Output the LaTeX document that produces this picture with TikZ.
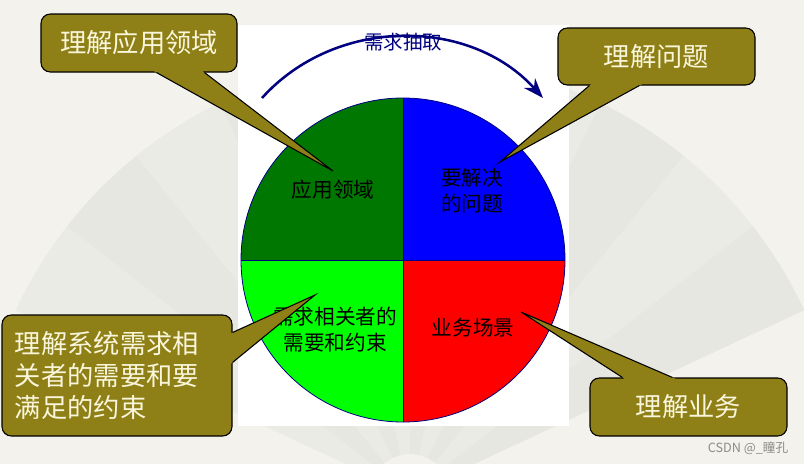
\documentclass[tikz,border=0pt]{standalone}
\usepackage{fontspec}
\newfontfamily\cjk{Noto Sans CJK SC}
\usetikzlibrary{calc,arrows.meta}
\definecolor{bgpaper}{RGB}{243,242,236}
\definecolor{fanA}{RGB}{235,235,229}
\definecolor{fanB}{RGB}{231,231,225}
\definecolor{olivebox}{RGB}{142,128,22}
\definecolor{creamtext}{RGB}{250,246,220}
\definecolor{navyline}{RGB}{0,0,128}
\definecolor{piedomain}{RGB}{0,119,0}
\definecolor{pieproblem}{RGB}{0,0,255}
\definecolor{piestake}{RGB}{0,255,0}
\definecolor{piescene}{RGB}{255,0,0}
\tikzset{
  callout/.style={shape=rectangle, draw=black, line width=0.8pt, fill=olivebox, rounded corners=7pt, text=creamtext, font=\cjk\fontsize{19.7}{24}\selectfont, inner sep=0pt},
  pointer/.style={draw=black, line width=0.8pt, line join=miter},
  pietext/.style={font=\cjk\fontsize{15.5}{19.5}\selectfont, align=center, text=black}
}
\begin{document}
\begin{tikzpicture}[x=0.75pt, y=-0.75pt]
	\useasboundingbox (0,0) rectangle (804,464);
	% Paper and fan:
	\fill[bgpaper] (0,0) rectangle (804,464);
	\coordinate (fanc) at (410,494);
	\foreach \a [count=\i] in {-155,-142,...,-38} {
		\pgfmathsetmacro{\b}{\a+13}
		\ifodd\i \def\fancol{fanA}\else\def\fancol{fanB}\fi
		\fill[\fancol] ($(fanc)+(\a:435)$) arc[start angle=\a, end angle=\b, radius=435] -- ($(fanc)+(\b:40)$) arc[start angle=\b, end angle=\a, radius=40] -- cycle;
	}
	\fill[white] (238,25) rectangle (569,426);
	% Pie:
	\coordinate (pc) at (403,260);
	\begin{scope}
		\clip (pc) circle[radius=162];
		\fill[piedomain] (pc) rectangle ++(-165,-165);
		\fill[pieproblem] (pc) rectangle ++(165,-165);
		\fill[piestake] (pc) rectangle ++(-165,165);
		\fill[piescene] (pc) rectangle ++(165,165);
	\end{scope}
	\draw[navyline, line width=0.6pt] (pc) circle[radius=162];
	\draw[navyline, line width=0.6pt] ($(pc)+(-162,0)$) -- ($(pc)+(162,0)$);
	\draw[navyline, line width=0.6pt] ($(pc)+(0,-162)$) -- ($(pc)+(0,162)$);
	\node[pietext] (txtDomain) at (333,190) {应用领域};
	\node[pietext] (txtProblem) at (472,191) {要解决\\的问题};
	\node[pietext] (txtStake) at (335,330) {需求相关者的\\需要和约束};
	\node[pietext] (txtScene) at (473,328) {业务场景};
	% Arc and title:
	\coordinate (arcL) at (262,98);
	\coordinate (arcR) at (543,98);
	\draw[navyline, line width=1.9pt, -{Stealth[length=15pt, width=11pt]}] (arcL) to[bend left=48] (arcR);
	\node[font=\cjk\fontsize{14.6}{17}\selectfont, text=navyline] (title) at (403,42) {需求抽取};
	% Callouts:
	\node[callout, minimum width=147pt, minimum height=43.5pt] (boxDomain) at (139,43) {理解应用领域};
	\coordinate (tipDomain) at (333,171);
	\coordinate (baseDomainA) at ($(boxDomain.south west)+(116,0)$);
	\coordinate (baseDomainB) at ($(boxDomain.south west)+(164,0)$);
	\fill[olivebox] ($(tipDomain)!1.04!(baseDomainA)$) -- (tipDomain) -- ($(tipDomain)!1.04!(baseDomainB)$) -- cycle;
	\draw[pointer] (baseDomainA) -- (tipDomain) -- (baseDomainB);

	\node[callout, minimum width=147.75pt, minimum height=42.75pt] (boxProblem) at (656.5,56.5) {理解问题};
	\coordinate (tipProblem) at (500,162);
	\coordinate (baseProblemA) at ($(boxProblem.south west)+(32,0)$);
	\coordinate (baseProblemB) at ($(boxProblem.south west)+(82,0)$);
	\fill[olivebox] ($(tipProblem)!1.04!(baseProblemA)$) -- (tipProblem) -- ($(tipProblem)!1.04!(baseProblemB)$) -- cycle;
	\draw[pointer] (baseProblemA) -- (tipProblem) -- (baseProblemB);

	\node[callout, align=left, text width=153pt, inner xsep=9.75pt, minimum height=90.75pt] (boxStake) at (117,375.5) {理解系统需求相\\关者的需要和要\\满足的约束};
	\coordinate (tipStake) at (315,295);
	\coordinate (baseStakeA) at ($(boxStake.north east)+(0,18)$);
	\coordinate (baseStakeB) at ($(boxStake.north east)+(0,48)$);
	\fill[olivebox] ($(tipStake)!1.04!(baseStakeA)$) -- (tipStake) -- ($(tipStake)!1.04!(baseStakeB)$) -- cycle;
	\draw[pointer] (baseStakeA) -- (tipStake) -- (baseStakeB);

	\node[callout, minimum width=147.75pt, minimum height=43.5pt] (boxScene) at (688.5,407) {理解业务};
	\coordinate (tipScene) at (521,312);
	\coordinate (baseSceneA) at ($(boxScene.north west)+(33,0)$);
	\coordinate (baseSceneB) at ($(boxScene.north west)+(83,0)$);
	\fill[olivebox] ($(tipScene)!1.04!(baseSceneA)$) -- (tipScene) -- ($(tipScene)!1.04!(baseSceneB)$) -- cycle;
	\draw[pointer] (baseSceneA) -- (tipScene) -- (baseSceneB);
	% Watermark:
	\node[font=\cjk\fontsize{9.5}{11}\selectfont, text=black!45] (mark) at (748,448) {CSDN @\_瞳孔};
\end{tikzpicture}
\end{document}
